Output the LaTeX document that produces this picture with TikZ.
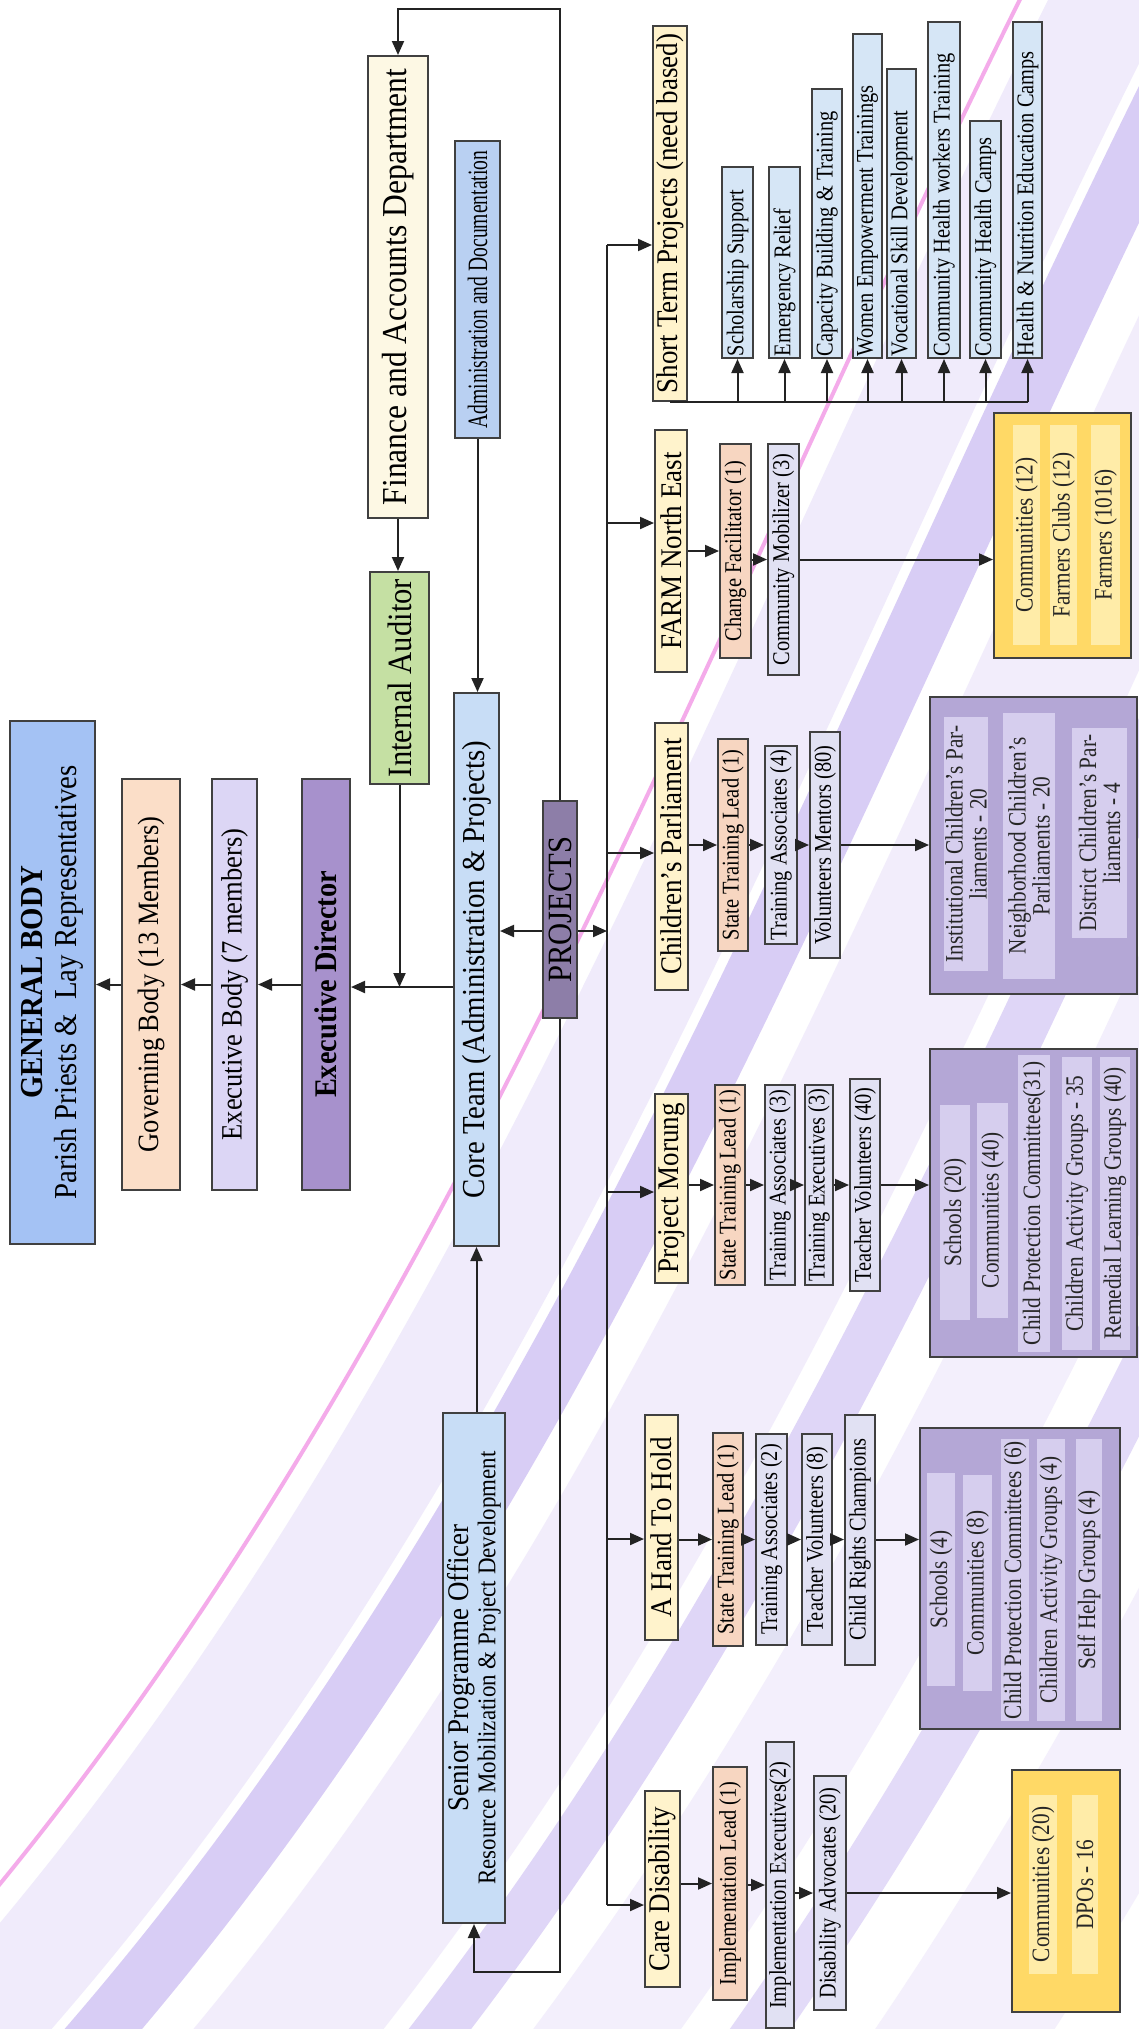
\documentclass[tikz,border=0pt]{standalone}
\usepackage{fontspec}
\setmainfont{Liberation Serif}[FakeStretch=0.9]
\newfontfamily\narrowfont{Liberation Serif}[FakeStretch=0.85]
\newfontfamily\condfont{Liberation Serif}[FakeStretch=0.7]
\usetikzlibrary{arrows.meta}
\usetikzlibrary{backgrounds}

\definecolor{gbblue}{RGB}{164,194,244}
\definecolor{govpeach}{RGB}{251,222,200}
\definecolor{eblav}{RGB}{220,214,245}
\definecolor{edpurple}{RGB}{167,145,204}
\definecolor{fincream}{RGB}{253,248,228}
\definecolor{audgreen}{RGB}{197,224,163}
\definecolor{admblue}{RGB}{185,208,242}
\definecolor{coreblue}{RGB}{200,221,246}
\definecolor{projgray}{RGB}{141,126,168}
\definecolor{headyellow}{RGB}{255,243,204}
\definecolor{leadpeach}{RGB}{247,214,193}
\definecolor{stafflav}{RGB}{225,225,243}
\definecolor{itemblue}{RGB}{214,230,246}
\definecolor{outpurple}{RGB}{180,167,214}
\definecolor{barpurple}{RGB}{214,206,238}
\definecolor{outyellow}{RGB}{255,217,102}
\definecolor{baryellow}{RGB}{255,236,168}
\definecolor{linegray}{RGB}{35,35,35}
\definecolor{bandlav}{RGB}{196,176,240}
\definecolor{bandvio}{RGB}{128,92,224}
\definecolor{bandpink}{RGB}{232,70,210}

\tikzset{
    rbox/.style = {rectangle, rotate=90, draw=black!75, line width=2pt, align=flush center, text=black, inner sep=2pt},
    gbox/.style = {rbox, fill=gbblue, font=\fontsize{32}{34}\selectfont},
    govbox/.style = {rbox, fill=govpeach, font=\fontsize{29.5}{32}\selectfont},
    ebbox/.style = {rbox, fill=eblav, font=\fontsize{29.5}{32}\selectfont},
    edbox/.style = {rbox, fill=edpurple, font=\fontsize{31.5}{33}\selectfont},
    finbox/.style = {rbox, fill=fincream, font=\fontsize{35}{37}\selectfont},
    audbox/.style = {rbox, fill=audgreen, font=\fontsize{34}{36}\selectfont},
    admbox/.style = {rbox, fill=admblue, font=\condfont\fontsize{28}{30}\selectfont},
    corebox/.style = {rbox, fill=coreblue, font=\fontsize{32}{34}\selectfont},
    projbox/.style = {rbox, fill=projgray, font=\fontsize{34}{36}\selectfont},
    spobox/.style = {rbox, fill=coreblue, font=\fontsize{25.5}{27}\selectfont},
    headbox/.style = {rbox, fill=headyellow, font=\fontsize{30}{32}\selectfont},
    leadbox/.style = {rbox, fill=leadpeach, font=\narrowfont\fontsize{24}{26}\selectfont},
    staffbox/.style = {rbox, fill=stafflav, font=\narrowfont\fontsize{24}{26}\selectfont},
    itembox/.style = {rbox, fill=itemblue, align=flush left, inner xsep=2pt, inner ysep=1pt, font=\narrowfont\fontsize{24}{26}\selectfont},
    outp/.style = {rectangle, draw=black!75, line width=2pt, fill=outpurple},
    outy/.style = {rectangle, draw=black!75, line width=2pt, fill=outyellow},
    barp/.style = {rectangle, rotate=90, fill=barpurple, align=flush center, inner sep=1pt, text=black!85, font=\narrowfont\fontsize{25}{24}\selectfont},
    bary/.style = {barp, fill=baryellow},
    ln/.style = {line width=2pt, draw=linegray},
    arr/.style = {-{Triangle[length=14pt,width=12pt]}, line width=2pt, draw=linegray, fill=linegray},
    dblarr/.style = {{Triangle[length=14pt,width=12pt]}-{Triangle[length=14pt,width=12pt]}, line width=2pt, draw=linegray}
}

\begin{document}
\begin{tikzpicture}[x=1pt, y=-1pt]
  \useasboundingbox (0,0) rectangle (1139,2029);

  % background silk bands
  \begin{scope}[on background layer]
    \fill[white] (0,0) rectangle (1139,2029);
    \clip (0,0) rectangle (1139,2029);
    \foreach \a/\b/\c/\o in {30/140/bandlav/.25, 150/210/bandvio/.30, 250/400/bandlav/.22, 420/470/bandvio/.25, 520/640/bandlav/.20, 680/730/bandvio/.22, 800/950/bandlav/.18} {
      \fill[\c, opacity=\o] ({-200+0.868*\a},{2100+0.496*\a}) .. controls ({267+0.868*(\a+250)},{1283+0.496*(\a+250)}) and ({733+0.868*\a},{467+0.496*\a}) .. ({1200+0.868*\a},{-350+0.496*\a})
        -- ({1200+0.868*\b},{-350+0.496*\b}) .. controls ({733+0.868*\b},{467+0.496*\b}) and ({267+0.868*(\b+250)},{1283+0.496*(\b+250)}) .. ({-200+0.868*\b},{2100+0.496*\b}) -- cycle;
    }
    \draw[bandpink, opacity=.45, line width=4pt] (-196,2102) .. controls (488,1412) and (737,469) .. (1204,-348);
  \end{scope}

  % governing chain
  \node[gbox, minimum width=523pt, minimum height=85pt] (general) at (52.5,982.5) {\textbf{GENERAL BODY}\\Parish Priests \&\ \ Lay Representatives};
  \node[govbox, minimum width=411pt, minimum height=58pt] (governing) at (151,984.5) {Governing Body (13 Members)};
  \node[ebbox, minimum width=411pt, minimum height=45pt] (execbody) at (234.5,984.5) {Executive Body (7 members)};
  \node[edbox, minimum width=411pt, minimum height=48pt] (execdir) at (326,984.5) {\textbf{Executive Director}};
  \node[finbox, minimum width=462pt, minimum height=60pt] (finance) at (398,287) {Finance and Accounts Department};
  \node[audbox, minimum width=212pt, minimum height=59pt] (auditor) at (399.5,678) {Internal Auditor};
  \node[admbox, minimum width=297pt, minimum height=45pt] (admin) at (477.5,289.5) {Administration and Documentation};
  \node[corebox, minimum width=553pt, minimum height=45pt] (core) at (476.5,969.5) {Core Team (Administration \& Projects)};
  \node[projbox, minimum width=217pt, minimum height=34pt] (projects) at (560,909.5) {PROJECTS};
  \node[spobox, minimum width=510pt, minimum height=62pt] (spo) at (474,1668) {{\fontsize{30}{31}\selectfont Senior Programme Officer}\\Resource Mobilization \& Project Development};

  % project headers
  \node[headbox, minimum width=375pt, minimum height=34pt] (st) at (670,213.5) {Short Term Projects (need based)};
  \node[headbox, minimum width=242pt, minimum height=32pt] (farm) at (671,551) {FARM North East};
  \node[headbox, minimum width=267pt, minimum height=33pt] (cp) at (671.5,856.5) {Children’s Parliament};
  \node[headbox, minimum width=189pt, minimum height=33pt] (morung) at (671.5,1188.5) {Project Morung};
  \node[headbox, minimum width=225pt, minimum height=33pt] (hand) at (661.5,1527.5) {A Hand To Hold};
  \node[headbox, minimum width=196pt, minimum height=35pt] (care) at (662.5,1889) {Care Disability};

  % short term items
  \node[itembox, minimum height=31pt, text width=187pt] (s1) at (737.5,262.5) {Scholarship Support};
  \node[itembox, minimum height=31pt, text width=187pt] (s2) at (784.5,262.5) {Emergency Relief};
  \node[itembox, minimum height=30pt, text width=265pt] (s3) at (827,223.5) {Capacity Building \& Training};
  \node[itembox, minimum height=29pt, text width=320pt] (s4) at (867.5,196) {Women Empowerment Trainings};
  \node[itembox, minimum height=29pt, text width=285pt] (s5) at (901.5,213.5) {Vocational Skill Development};
  \node[itembox, minimum height=32pt, text width=332pt] (s6) at (944,190) {Community Health workers Training};
  \node[itembox, minimum height=31pt, text width=233pt] (s7) at (985.5,239.5) {Community Health Camps};
  \node[itembox, minimum height=29pt, text width=332pt] (s8) at (1027.5,190) {Health \& Nutrition Education Camps};

  % staff
  \node[leadbox, minimum width=214pt, minimum height=31pt] (f1) at (735.5,551) {Change Facilitator (1)};
  \node[staffbox, minimum width=231pt, minimum height=31pt] (f2) at (783.5,559.5) {Community Mobilizer (3)};
  \node[leadbox, minimum width=212pt, minimum height=30pt] (cp1) at (733,845) {State Training Lead (1)};
  \node[staffbox, minimum width=198pt, minimum height=32pt] (cp2) at (781,845) {Training Associates (4)};
  \node[staffbox, minimum width=226pt, minimum height=30pt] (cp3) at (825,845) {Volunteers Mentors (80)};
  \node[leadbox, minimum width=200pt, minimum height=30pt] (m1) at (730,1185) {State Training Lead (1)};
  \node[staffbox, minimum width=200pt, minimum height=30pt] (m2) at (780,1185) {Training Associates (3)};
  \node[staffbox, minimum width=200pt, minimum height=28pt] (m3) at (819,1185) {Training Executives (3)};
  \node[staffbox, minimum width=212pt, minimum height=30pt] (m4) at (865,1185) {Teacher Volunteers (40)};
  \node[leadbox, minimum width=213pt, minimum height=30pt] (h1) at (728,1539.5) {State Training Lead (1)};
  \node[staffbox, minimum width=211pt, minimum height=31pt] (h2) at (771.5,1539.5) {Training Associates (2)};
  \node[staffbox, minimum width=211pt, minimum height=30pt] (h3) at (817,1539.5) {Teacher Volunteers (8)};
  \node[staffbox, minimum width=250pt, minimum height=30pt] (h4) at (860,1539.5) {Child Rights Champions};
  \node[leadbox, minimum width=233pt, minimum height=34pt] (c1) at (730,1883.5) {Implementation Lead (1)};
  \node[staffbox, minimum width=286pt, minimum height=28pt] (c2) at (780,1885) {Implementation Executives(2)};
  \node[staffbox, minimum width=234pt, minimum height=32pt] (c3) at (830,1893) {Disability Advocates (20)};

  % reach boxes
  \node[outy, minimum width=137pt, minimum height=245pt] (fout) at (1062.5,535.5) {};
  \node[outp, minimum width=207pt, minimum height=297pt] (cpout) at (1033.5,845.5) {};
  \node[outp, minimum width=207pt, minimum height=308pt] (mout) at (1033.5,1203) {};
  \node[outp, minimum width=200pt, minimum height=301pt] (hout) at (1020,1578.5) {};
  \node[outy, minimum width=108pt, minimum height=242pt] (cout) at (1066,1891) {};

  \node[bary, minimum width=220pt, minimum height=27pt] (fa) at (1026.5,535) {Communities (12)};
  \node[bary, minimum width=220pt, minimum height=27pt] (fb) at (1063.5,535) {Farmers Clubs (12)};
  \node[bary, minimum width=220pt, minimum height=29pt] (fc) at (1105.5,535) {Farmers (1016)};
  \node[barp, minimum width=254pt, minimum height=42pt] (cpa) at (966,844) {Institutional Children’s Par-\\liaments - 20};
  \node[barp, minimum width=266pt, minimum height=52pt] (cpb) at (1029,846) {Neighborhood Children’s\\Parliaments - 20};
  \node[barp, minimum width=210pt, minimum height=55pt] (cpc) at (1099.5,833) {District Children’s Par-\\liaments - 4};
  \node[barp, minimum width=215pt, minimum height=30pt] (ma) at (955,1212.5) {Schools (20)};
  \node[barp, minimum width=215pt, minimum height=31pt] (mb) at (992.5,1210.5) {Communities (40)};
  \node[barp, minimum width=297pt, minimum height=32pt] (mc) at (1034,1203.5) {Child Protection Committees(31)};
  \node[barp, minimum width=293pt, minimum height=30pt] (md) at (1077,1203.5) {Children Activity Groups - 35};
  \node[barp, minimum width=293pt, minimum height=30pt] (me) at (1115,1203.5) {Remedial Learning Groups (40)};
  \node[barp, minimum width=213pt, minimum height=28pt] (ha) at (941,1579.5) {Schools (4)};
  \node[barp, minimum width=216pt, minimum height=29pt] (hb) at (977.5,1583) {Communities (8)};
  \node[barp, minimum width=282pt, minimum height=28pt] (hc) at (1015,1580) {Child Protection Committees (6)};
  \node[barp, minimum width=282pt, minimum height=28pt] (hd) at (1051,1580) {Children Activity Groups (4)};
  \node[barp, minimum width=282pt, minimum height=26pt] (he) at (1089,1580) {Self Help Groups (4)};
  \node[bary, minimum width=179pt, minimum height=28pt] (ca) at (1043,1884.5) {Communities (20)};
  \node[bary, minimum width=179pt, minimum height=26pt] (cb) at (1085,1884.5) {DPOs - 16};

  % junctions
  \coordinate (jdir) at (399.5,987);
  \coordinate (jproj) at (607,931);
  \coordinate (jst) at (607,245);
  \coordinate (jfarm) at (607,523);
  \coordinate (jcp) at (607,853);
  \coordinate (jmor) at (607,1192);
  \coordinate (jhand) at (607,1539);
  \coordinate (jcare) at (607,1905);
  \coordinate (looptr) at (560,9);
  \coordinate (loopbr) at (560,1972);

  \begin{scope}[on background layer]
    \draw[dblarr] (finance.east) |- (looptr) -- (loopbr) -| (spo.west);
  \end{scope}

  \draw[arr] (governing.north) -- (governing.north -| general.south);
  \draw[arr] (execbody.north) -- (execbody.north -| governing.south);
  \draw[arr] (execdir.north) -- (execdir.north -| execbody.south);
  \draw[arr] (core.north |- jdir) -- (execdir.south |- jdir);
  \draw[arr] (auditor.west) -- (jdir);
  \draw[arr] (finance.west) -- (finance.west |- auditor.east);
  \draw[arr] (admin.west) -- (admin.west |- core.east);
  \draw[arr] (core.west |- spo.east) -- (core.west);
  \draw[arr] (projects.north |- jproj) -- (core.south |- jproj);
  \draw[arr] (projects.south |- jproj) -- (jproj);

  % projects bus
  \draw[ln] (jst) -- (jcare);
  \draw[arr] (jst) -- (jst -| st.north);
  \draw[arr] (jfarm) -- (jfarm -| farm.north);
  \draw[arr] (jcp) -- (jcp -| cp.north);
  \draw[arr] (jmor) -- (jmor -| morung.north);
  \draw[arr] (jhand) -- (jhand -| hand.north);
  \draw[arr] (jcare) -- (jcare -| care.north);

  \draw[ln] (st.west) -- (st.west -| s8.west);
  \foreach \s in {s1,s2,s3,s4,s5,s6,s7,s8}
    \draw[arr] (st.west -| \s.west) -- (\s.west);

  \draw[arr] (farm.south |- f1.north) -- (f1.north);
  \draw[arr] (f1.south |- f2.north) -- (f2.north);
  \draw[arr] (f2.south) -- (f2.south -| fout.west);

  \draw[arr] (cp.south |- cp1.north) -- (cp1.north);
  \draw[arr] (cp1.south |- cp2.north) -- (cp2.north);
  \draw[arr] (cp2.south |- cp3.north) -- (cp3.north);
  \draw[arr] (cp3.south) -- (cp3.south -| cpout.west);

  \draw[arr] (morung.south |- m1.north) -- (m1.north);
  \draw[arr] (m1.south |- m2.north) -- (m2.north);
  \draw[arr] (m2.south |- m3.north) -- (m3.north);
  \draw[arr] (m3.south |- m4.north) -- (m4.north);
  \draw[arr] (m4.south) -- (m4.south -| mout.west);

  \draw[arr] (hand.south |- h1.north) -- (h1.north);
  \draw[arr] (h1.south |- h2.north) -- (h2.north);
  \draw[arr] (h2.south |- h3.north) -- (h3.north);
  \draw[arr] (h3.south |- h4.north) -- (h4.north);
  \draw[arr] (h4.south) -- (h4.south -| hout.west);

  \draw[arr] (care.south |- c1.north) -- (c1.north);
  \draw[arr] (c1.south |- c2.north) -- (c2.north);
  \draw[arr] (c2.south |- c3.north) -- (c3.north);
  \draw[arr] (c3.south) -- (c3.south -| cout.west);
\end{tikzpicture}
\end{document}
